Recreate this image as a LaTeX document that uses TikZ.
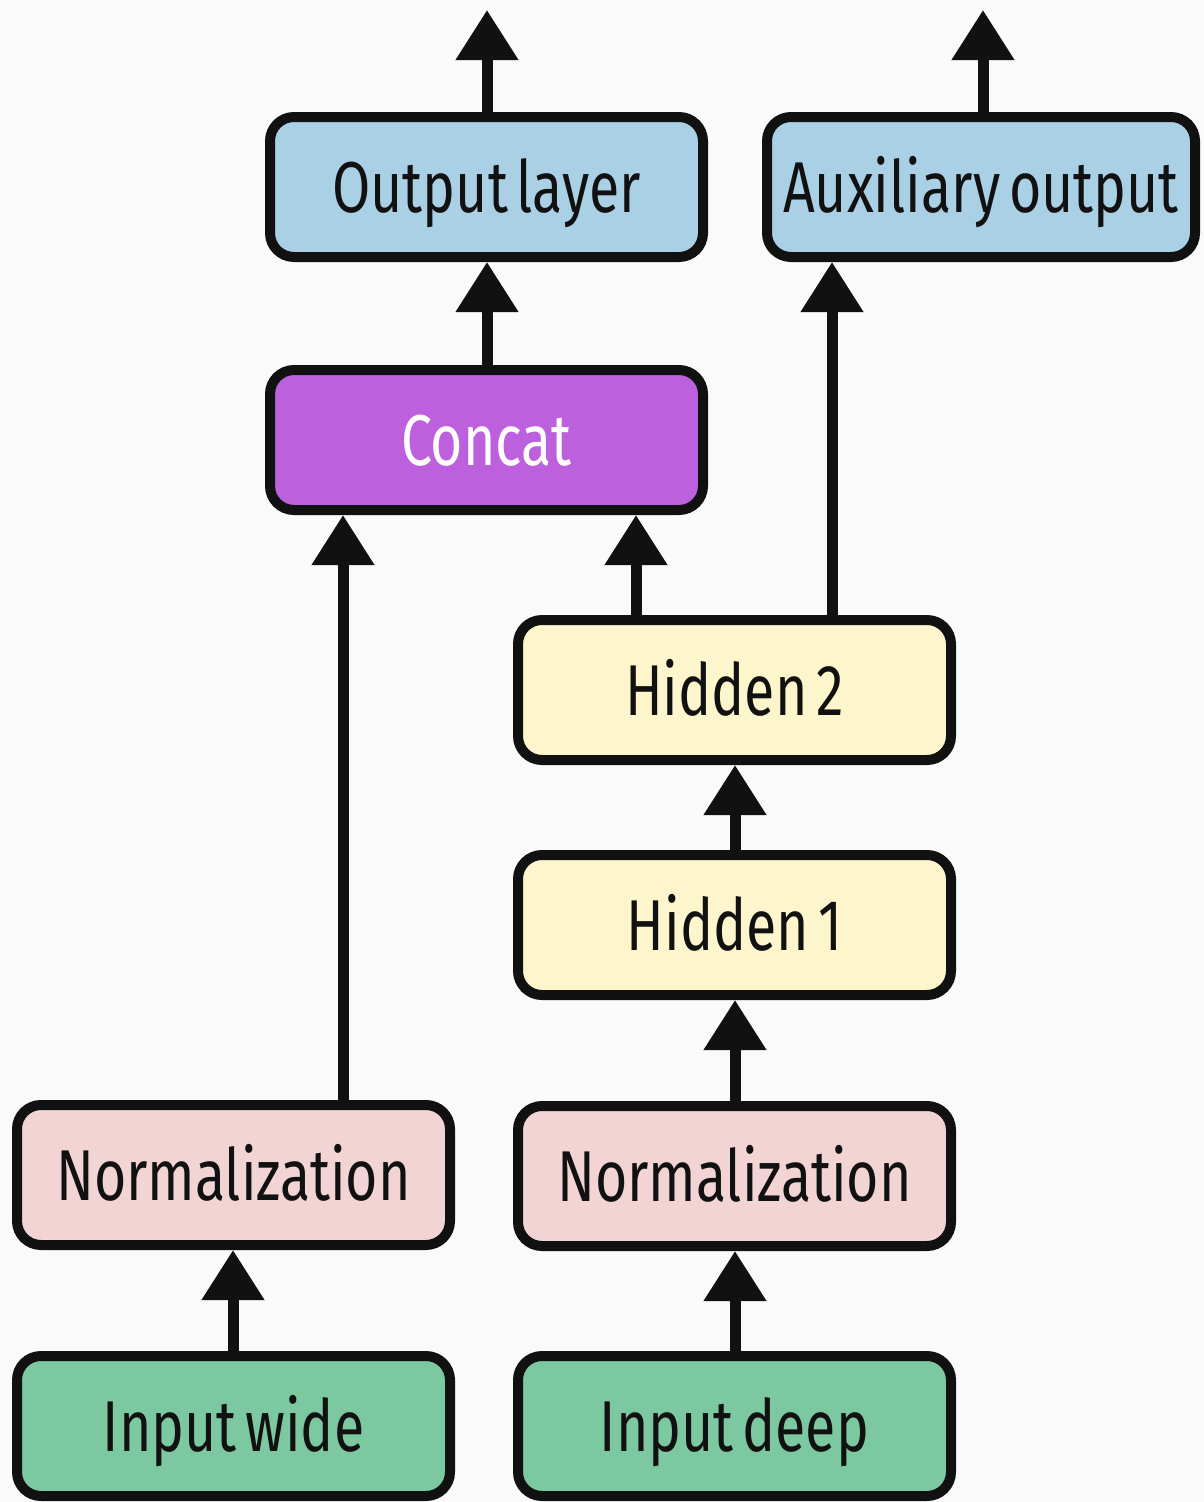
\documentclass[tikz,border=0pt]{standalone}
\usepackage{fontspec}
\setmainfont[FakeStretch=0.77,WordSpace=0.6]{Fira Sans}
\usetikzlibrary{arrows.meta}
\definecolor{bgc}{RGB}{250,250,250}
\definecolor{bluec}{RGB}{170,208,230}
\definecolor{purplec}{RGB}{188,96,222}
\definecolor{yellowc}{RGB}{253,246,204}
\definecolor{pinkc}{RGB}{242,212,212}
\definecolor{greenc}{RGB}{124,200,160}
\definecolor{inkc}{RGB}{17,17,17}
\tikzset{
  layer/.style={draw=inkc, line width=10pt, rounded corners=24pt,
    minimum width=433pt, minimum height=140pt, inner sep=0pt,
    text height=50pt, text depth=0pt, text=inkc,
    font=\fontsize{72}{80}\selectfont},
  flow/.style={draw=inkc, line width=11pt,
    -{Triangle[width=60pt,length=50pt]}},
}
\begin{document}
\begin{tikzpicture}[x=1pt,y=-1pt]
\fill[bgc] (0,0) rectangle (1204,1502);
\useasboundingbox (0,0) rectangle (1204,1502);
\node[layer, fill=bluec] (out) at (486.5,187) {Output layer};
\node[layer, fill=bluec, minimum width=428pt] (aux) at (981,187) {Auxiliary output};
\node[layer, fill=purplec, text=white!96!pink] (cat) at (486.5,440) {Concat};
\node[layer, fill=yellowc] (h2) at (734.5,690) {Hidden 2};
\node[layer, fill=yellowc] (h1) at (734.5,925) {Hidden 1};
\node[layer, fill=pinkc] (nl) at (233.5,1175) {Normalization};
\node[layer, fill=pinkc] (nr) at (734.5,1176) {Normalization};
\node[layer, fill=greenc] (iw) at (233.5,1426) {Input wide};
\node[layer, fill=greenc] (id) at (734.5,1426) {Input deep};
\coordinate (otop) at (487,10);
\coordinate (atop) at (983,10);
\draw[flow] (out.north -| otop) -- (otop);
\draw[flow] (aux.north -| atop) -- (atop);
\draw[flow] (cat.north -| otop) -- (out.south -| otop);
\coordinate (xl) at (343,0);
\coordinate (xm) at (636,0);
\coordinate (xa) at (832,0);
\coordinate (xc) at (735,0);
\coordinate (xw) at (233,0);
\draw[flow] (nl.north -| xl) -- (cat.south -| xl);
\draw[flow] (h2.north -| xm) -- (cat.south -| xm);
\draw[flow] (h2.north -| xa) -- (aux.south -| xa);
\draw[flow] (h1.north -| xc) -- (h2.south -| xc);
\draw[flow] (nr.north -| xc) -- (h1.south -| xc);
\draw[flow] (id.north -| xc) -- (nr.south -| xc);
\draw[flow] (iw.north -| xw) -- (nl.south -| xw);
\end{tikzpicture}
\end{document}
